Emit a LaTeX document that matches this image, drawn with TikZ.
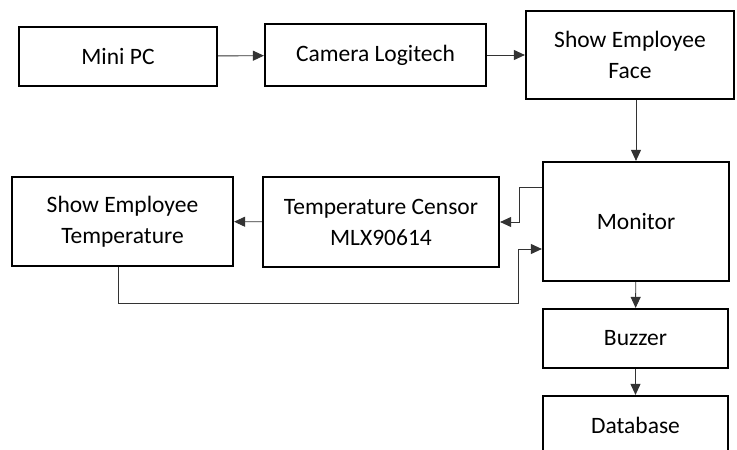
\documentclass[tikz,border=0pt]{standalone}
\usepackage{fontspec}
\setmainfont{Carlito}
\usepackage{tikz}
\usetikzlibrary{arrows.meta}

\tikzset{
    block/.style={draw, line width=2.2pt, align=center, inner sep=0pt,
        font=\fontsize{23.5}{31}\selectfont},
    arr/.style={draw=black!80, line width=0.9pt,
        -{Triangle[length=11pt,width=10pt]}},
}

\begin{document}
\begin{tikzpicture}[x=1pt, y=-1pt]
        \useasboundingbox (0,0) rectangle (737,450);
        \clip (0,0) rectangle (737,450);
        % top row
        \node[block, minimum width=198pt, minimum height=59pt] (minipc) at (118,56.5) {Mini PC};
        \node[block, minimum width=221pt, minimum height=62pt] (camera) at (375.5,55) {Camera Logitech};
        \node[block, minimum width=208pt, minimum height=88pt] (face) at (630,55) {Show Employee\\Face};
        % middle row
        \node[block, minimum width=186pt, minimum height=119pt] (monitor) at (636,221.5) {Monitor};
        \node[block, minimum width=236pt, minimum height=90pt] (censor) at (381,222) {Temperature Censor\\MLX90614};
        \node[block, minimum width=221pt, minimum height=89pt] (showtemp) at (122.5,221.5) {Show Employee\\Temperature};
        % right column
        \node[block, minimum width=185pt, minimum height=59pt] (buzzer) at (635.5,338.5) {Buzzer};
        \node[block, minimum width=185pt, minimum height=59pt] (database) at (635.5,425.5) {Database};
        \coordinate (loop) at (518,303);

        \draw[arr] (minipc) -- (camera);
        \draw[arr] (camera) -- (face);
        \draw[arr] (monitor.north |- face.south) -- (monitor.north);
        \draw[arr] ([yshift=34.5pt]monitor.west) -- ++(-22,0) |- (censor.east);
        \draw[arr] (censor) -- (showtemp);
        \draw[arr] ([xshift=-4.5pt]showtemp.south) |- (loop) |- ([yshift=-27.5pt]monitor.west);
        \draw[arr] (monitor) -- (buzzer);
        \draw[arr] (buzzer) -- (database);
    \end{tikzpicture}
\end{document}
